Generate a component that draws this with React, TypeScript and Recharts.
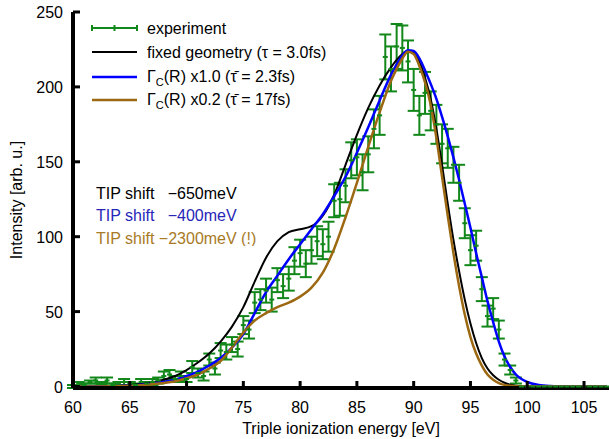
import { ComposedChart, Line, Scatter, ErrorBar, XAxis, YAxis, Legend } from 'recharts';

const FONT = '"Liberation Sans", Arial, Helvetica, sans-serif';

const GREEN = '#12871a';
const BLUE = '#0000ff';
const BROWN = '#9c6812';

const xTicks = [60, 65, 70, 75, 80, 85, 90, 95, 100, 105];
const yTicks = [0, 50, 100, 150, 200, 250];

// measured spectrum (0.5 eV bins)
const expEnergy = [
  60, 60.5, 61, 61.5, 62, 62.5, 63, 63.5, 64, 64.5,
  65, 65.5, 66, 66.5, 67, 67.5, 68, 68.5, 69, 69.5,
  70, 70.5, 71, 71.5, 72, 72.5, 73, 73.5, 74, 74.5,
  75, 75.5, 76, 76.5, 77, 77.5, 78, 78.5, 79, 79.5,
  80, 80.5, 81, 81.5, 82, 82.5, 83, 83.5, 84, 84.5,
  85, 85.5, 86, 86.5, 87, 87.5, 88, 88.5, 89, 89.5,
  90, 90.5, 91, 91.5, 92, 92.5, 93, 93.5, 94, 94.5,
  95, 95.5, 96, 96.5, 97, 97.5, 98, 98.5, 99, 99.5,
  100, 100.5, 101, 101.5, 102, 102.5, 103, 103.5, 104, 104.5,
  105, 105.5, 106, 106.5, 107,
];
const expIntensity = [
  0, 2, 1, 3, 4, 2, 4, 1, 2, 3,
  2, 1, 3, 2, 3, 4, 7, 8, 5, 7,
  5, 13, 9, 7, 18, 12, 24, 23, 28, 25,
  41, 38, 56, 58, 64, 58, 71, 67, 72, 84,
  89, 82, 91, 97, 95, 100, 124, 125, 134, 151,
  153, 143, 155, 172, 181, 220, 212, 227, 226, 217,
  198, 181, 196, 184, 175, 162, 159, 148, 136, 109,
  91, 94, 65, 47, 52, 38, 18, 11, 4, 0,
  0, 0, 0, 0, 0, 0, 0, 0, 0, 0,
  0, 0, 0, 0, 0,
];
const expError = [
  1, 1, 1, 1, 2, 1, 2, 1, 1, 2,
  1, 1, 2, 1, 2, 2, 3, 3, 2, 3,
  2, 4, 3, 3, 4, 4, 5, 5, 5, 5,
  6, 6, 7, 7, 8, 8, 8, 8, 8, 9,
  9, 9, 9, 10, 10, 10, 11, 11, 11, 12,
  12, 12, 12, 13, 13, 15, 15, 15, 15, 14,
  14, 13, 14, 13, 13, 13, 13, 12, 12, 10,
  10, 10, 8, 7, 7, 6, 4, 3, 2, 0,
  0, 0, 0, 0, 0, 0, 0, 0, 0, 0,
  0, 0, 0, 0, 0,
];

// simulated curves
const curveEnergy = [
  60, 62, 64, 65, 66, 67, 68, 69, 70, 71, 72, 73, 74, 75, 76, 77, 78, 79, 80, 81,
  82, 83, 84, 85, 86, 87, 88, 88.5, 89, 89.5, 90, 90.5, 91, 91.5, 92, 92.5, 93, 93.5,
  94, 94.5, 95, 95.5, 96, 96.5, 97, 97.5, 98, 98.5, 99, 100, 101, 102, 103, 105, 107,
];
const fixedGeometry = [
  0, 0.1, 0.5, 1, 1.6, 2.8, 4.5, 7, 11, 16, 22, 30, 40, 53, 70, 86, 97, 103, 105, 107,
  114, 128, 148, 168, 186, 201, 213, 218, 222, 224, 223, 217, 206, 192, 172, 148, 122, 98,
  77, 58, 42, 29, 19, 12, 7.5, 4.5, 2.5, 1.2, 0.5, 0.1, 0, 0, 0, 0, 0,
];
const gammaX10 = [
  0, 0.1, 0.4, 0.7, 1.2, 2, 3, 4.5, 7, 10, 14, 19, 26, 35, 49, 63, 74, 85, 95, 105,
  115, 127, 140, 156, 173, 191, 208, 215, 221, 224.5, 224, 219, 211, 202, 192, 180, 167, 153,
  138, 122, 106, 89, 73, 57, 43, 30, 20, 13, 8, 3, 1, 0.3, 0.1, 0, 0,
];
const gammaX02 = [
  0, 0.05, 0.3, 0.5, 0.9, 1.5, 2.3, 3.5, 5.5, 8, 12, 17, 26, 36, 44, 49, 53, 56, 60, 66,
  76, 92, 113, 136, 160, 183, 204, 212, 219, 223.5, 222, 214, 203, 188, 166, 140, 114, 89,
  67, 48, 33, 22, 14, 8, 4.5, 2.3, 1.1, 0.5, 0.2, 0, 0, 0, 0, 0, 0,
];

const expData = expEnergy.map((x, i) => ({ x, y: expIntensity[i], err: expError[i] }));
const toRows = (vals: number[]) => curveEnergy.map((x, i) => ({ x, y: vals[i] }));

const BottomTick = ({ x, y, payload }: any) => (
  <g>
    <line x1={x} x2={x} y1={y} y2={y - 7} stroke="#000" strokeWidth={3} />
    <text x={x} y={y + 25} textAnchor="middle" fontSize={16} fontFamily={FONT} fill="#000">
      {payload.value}
    </text>
  </g>
);

const TopTick = ({ x, y }: any) => (
  <line x1={x} x2={x} y1={y} y2={y + 7} stroke="#000" strokeWidth={3} />
);

const LeftTick = ({ x, y, payload }: any) => (
  <g>
    <line x1={x} x2={x + 7} y1={y} y2={y} stroke="#000" strokeWidth={3} />
    <text x={x - 10} y={y + 6} textAnchor="end" fontSize={16} fontFamily={FONT} fill="#000">
      {payload.value}
    </text>
  </g>
);

const ExpPoint = ({ cx, cy }: any) => (
  <line x1={cx - 2.5} x2={cx + 2.5} y1={cy} y2={cy} stroke={GREEN} strokeWidth={2} />
);

const Gamma = ({ rest }: { rest: string }) => (
  <>
    <tspan>Γ</tspan>
    <tspan dy={4} fontSize={11}>C</tspan>
    <tspan dy={-4}>{rest}</tspan>
  </>
);

const LegendBox = () => (
  <svg width={260} height={96} style={{ fontFamily: FONT, fontSize: 16 }}>
    <line x1={2} x2={47} y1={12} y2={12} stroke={GREEN} strokeWidth={2} />
    {[2, 24.5, 47].map((t) => (
      <line key={t} x1={t} x2={t} y1={9} y2={15} stroke={GREEN} strokeWidth={2} />
    ))}
    <text x={57} y={17.5}>experiment</text>
    <line x1={2} x2={47} y1={36} y2={36} stroke="#000" strokeWidth={2} />
    <text x={57} y={41.5}>fixed geometry (τ = 3.0fs)</text>
    <line x1={2} x2={47} y1={61} y2={61} stroke={BLUE} strokeWidth={2.5} />
    <text x={57} y={65.5}>
      <Gamma rest={'(R) x1.0 (τ\u0304 = 2.3fs)'} />
    </text>
    <line x1={2} x2={47} y1={84} y2={84} stroke={BROWN} strokeWidth={2.5} />
    <text x={57} y={88.5}>
      <Gamma rest={'(R) x0.2 (τ\u0304 = 17fs)'} />
    </text>
  </svg>
);

export default function App() {
  return (
    <div style={{ position: 'absolute', left: 0, top: 0, width: 609, height: 439, background: '#fff' }}>
      <ComposedChart width={609} height={439} margin={{ top: 12, right: 0, bottom: 0, left: 0 }}>
        <XAxis
          dataKey="x"
          type="number"
          domain={[60, 107.2]}
          ticks={xTicks}
          interval={0}
          allowDataOverflow
          height={51}
          tickSize={0}
          tickMargin={0}
          tickLine={false}
          tick={<BottomTick />}
          axisLine={{ stroke: '#000', strokeWidth: 4 }}
          label={{ value: 'Triple ionization energy [eV]', position: 'insideBottom', offset: 5, fontSize: 16, fontFamily: FONT, fill: '#000' }}
        />
        <XAxis
          xAxisId="top"
          orientation="top"
          type="number"
          domain={[60, 107.2]}
          ticks={xTicks}
          interval={0}
          allowDataOverflow
          height={0}
          tickSize={0}
          tickMargin={0}
          tickLine={false}
          tick={<TopTick />}
          axisLine={{ stroke: '#000', strokeWidth: 4 }}
        />
        <YAxis
          type="number"
          domain={[0, 250]}
          ticks={yTicks}
          interval={0}
          width={73}
          tickSize={0}
          tickMargin={0}
          tickLine={false}
          tick={<LeftTick />}
          axisLine={{ stroke: '#000', strokeWidth: 4 }}
          label={{ value: 'Intensity [arb. u.]', angle: -90, position: 'insideLeft', offset: 16, style: { textAnchor: 'middle' }, fontSize: 16, fontFamily: FONT, fill: '#000' }}
        />
        <Legend
          layout="vertical"
          align="center"
          verticalAlign="middle"
          content={<LegendBox />}
          wrapperStyle={{ left: 90, top: 16, width: 260, height: 96 }}
        />
        <Scatter data={expData} dataKey="y" shape={<ExpPoint />} isAnimationActive={false} legendType="none">
          <ErrorBar dataKey="err" direction="y" width={6} stroke={GREEN} strokeWidth={2} />
        </Scatter>
        <Line data={toRows(fixedGeometry)} dataKey="y" type="monotone" stroke="#000" strokeWidth={2} dot={false} isAnimationActive={false} />
        <Line data={toRows(gammaX10)} dataKey="y" type="monotone" stroke={BLUE} strokeWidth={2.5} dot={false} isAnimationActive={false} />
        <Line data={toRows(gammaX02)} dataKey="y" type="monotone" stroke={BROWN} strokeWidth={2.5} dot={false} isAnimationActive={false} />
      </ComposedChart>
      <svg width={300} height={70} style={{ position: 'absolute', left: 90, top: 176, fontFamily: FONT, fontSize: 16 }}>
        <text x={6} y={23} fill="#000" style={{ whiteSpace: 'pre' }}>{'TIP shift   −650meV'}</text>
        <text x={6} y={45} fill="#2626b8" style={{ whiteSpace: 'pre' }}>{'TIP shift   −400meV'}</text>
        <text x={6} y={68} fill="#a87a26" style={{ whiteSpace: 'pre' }}>{'TIP shift −2300meV (!)'}</text>
      </svg>
    </div>
  );
}
